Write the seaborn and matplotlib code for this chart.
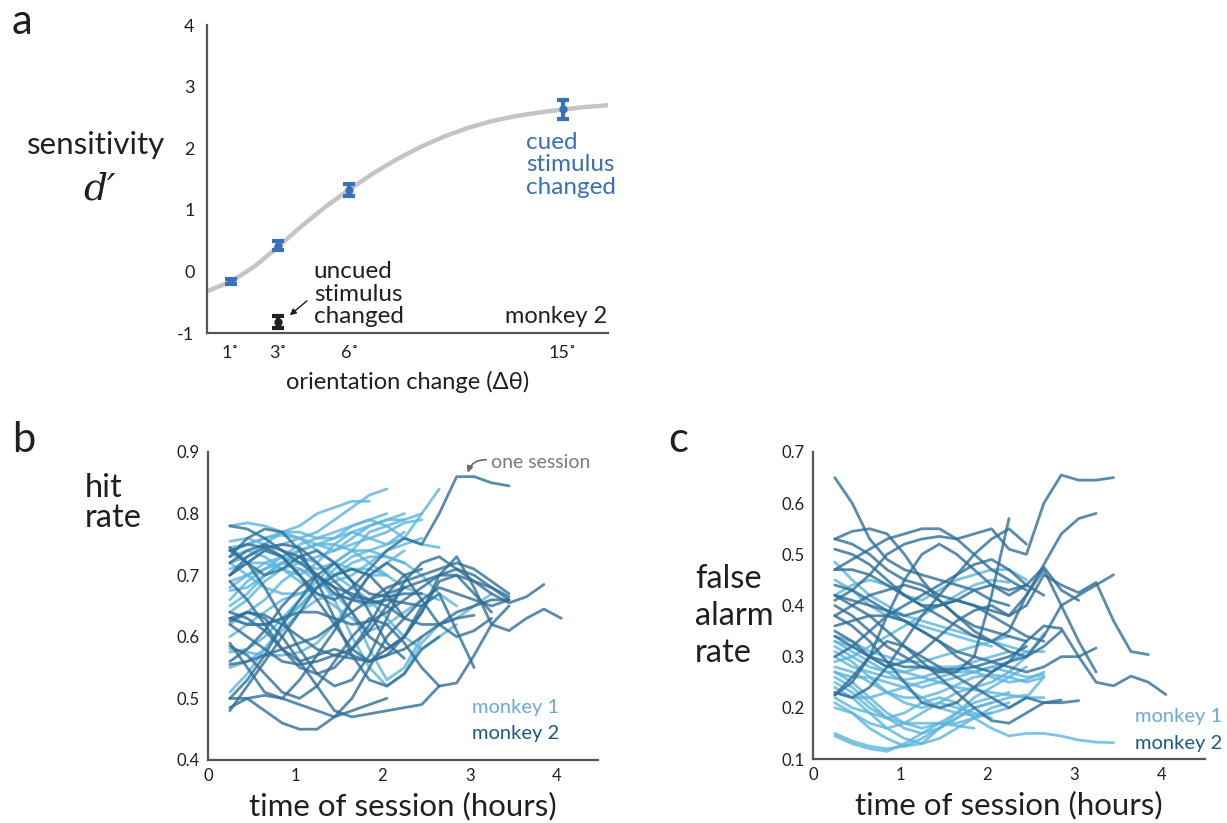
import numpy as np
import pandas as pd
import matplotlib
matplotlib.use("Agg")
import matplotlib.pyplot as plt
import seaborn as sns

sns.set_theme(style="white")
plt.rcParams['font.family'] = ['Lato', 'DejaVu Sans']

# ---------------- data: panel a ----------------
orient_ticks = [1, 3, 6, 15]
orient_labels = ["1˚", "3˚", "6˚", "15˚"]
cued_x = [1, 3, 6, 15]
cued_d = [-0.16, 0.42, 1.32, 2.63]
cued_err = [0.04, 0.08, 0.1, 0.15]
uncued_x = [3]
uncued_d = [-0.82]
uncued_err = [0.1]
fit_x = [0, 1, 2, 3, 4, 5, 6, 7, 8, 9, 10, 11, 12, 13, 14, 15, 16, 17]
fit_d = [-0.32, -0.17, 0.08, 0.40, 0.74, 1.05, 1.33, 1.59, 1.82, 2.02, 2.19, 2.33, 2.44, 2.52, 2.58, 2.63, 2.67, 2.70]

# ---------------- data: panel b (hit rate) ----------------
t_start = 0.25
t_step = 0.2
hit_m1 = [
    [0.78, 0.785, 0.78, 0.77, 0.76, 0.77, 0.79, 0.81, 0.83, 0.84],
    [0.72, 0.73, 0.75, 0.77, 0.78, 0.80, 0.81, 0.82, 0.82],
    [0.74, 0.75, 0.76, 0.77, 0.77, 0.76, 0.76, 0.77, 0.78, 0.79, 0.80],
    [0.70, 0.72, 0.74, 0.75, 0.76, 0.75, 0.74, 0.75, 0.76, 0.77, 0.785, 0.79],
    [0.73, 0.74, 0.73, 0.71, 0.70, 0.72, 0.75, 0.77, 0.76, 0.75, 0.76, 0.80, 0.84],
    [0.68, 0.70, 0.72, 0.73, 0.74, 0.75, 0.76, 0.78, 0.79, 0.78, 0.76, 0.75, 0.745],
    [0.62, 0.64, 0.66, 0.69, 0.71, 0.70, 0.66, 0.60, 0.55, 0.52, 0.54, 0.59, 0.62, 0.63, 0.65, 0.67],
    [0.65, 0.67, 0.70, 0.72, 0.73, 0.72, 0.70, 0.68, 0.66, 0.63, 0.60, 0.58, 0.60, 0.62],
    [0.51, 0.54, 0.58, 0.62, 0.65, 0.68, 0.71, 0.73, 0.74, 0.75, 0.77],
    [0.58, 0.575, 0.57, 0.57, 0.575, 0.59, 0.62, 0.66, 0.70, 0.72, 0.74],
    [0.60, 0.62, 0.64, 0.66, 0.67, 0.68, 0.69, 0.70, 0.72, 0.74, 0.75, 0.76],
    [0.66, 0.69, 0.71, 0.72, 0.71, 0.69, 0.67, 0.66, 0.65, 0.66, 0.68],
    [0.745, 0.75, 0.76, 0.765, 0.76, 0.74, 0.72, 0.71, 0.70, 0.70],
    [0.71, 0.72, 0.72, 0.71, 0.69, 0.67, 0.65, 0.63, 0.61, 0.62, 0.64, 0.66],
    [0.64, 0.66, 0.69, 0.71, 0.72, 0.73, 0.74, 0.76, 0.78, 0.79, 0.79],
    [0.55, 0.56, 0.58, 0.61, 0.64, 0.66, 0.67, 0.64, 0.58, 0.53, 0.55, 0.60],
    [0.69, 0.70, 0.71, 0.73, 0.75, 0.76, 0.77, 0.78, 0.79, 0.80],
    [0.72, 0.70, 0.68, 0.67, 0.67, 0.68, 0.70, 0.72, 0.73, 0.73, 0.72, 0.70, 0.67, 0.65],
    [0.63, 0.62, 0.62, 0.63, 0.65, 0.68, 0.70, 0.71, 0.71, 0.70, 0.68, 0.67, 0.66],
    [0.575, 0.58, 0.60, 0.63, 0.66, 0.69, 0.72, 0.74, 0.74, 0.73, 0.72],
    [0.755, 0.76, 0.75, 0.73, 0.72, 0.71, 0.72, 0.74, 0.77, 0.78, 0.79, 0.80],
    [0.675, 0.68, 0.70, 0.72, 0.74, 0.75, 0.75, 0.74, 0.72, 0.70],
]
hit_m2 = [
    [0.70, 0.72, 0.74, 0.73, 0.70, 0.67, 0.66, 0.68, 0.71, 0.74, 0.76, 0.75, 0.80, 0.86, 0.86, 0.85, 0.845],
    [0.59, 0.55, 0.51, 0.50, 0.53, 0.57, 0.58, 0.57, 0.56, 0.58, 0.60, 0.64, 0.70, 0.73, 0.68, 0.62, 0.61, 0.63, 0.645, 0.63],
    [0.745, 0.72, 0.68, 0.63, 0.58, 0.54, 0.52, 0.53, 0.57, 0.63, 0.69, 0.72, 0.73, 0.71, 0.69, 0.67, 0.655, 0.665, 0.685],
    [0.63, 0.64, 0.635, 0.62, 0.60, 0.58, 0.57, 0.58, 0.61, 0.65, 0.68, 0.69, 0.70, 0.70, 0.69, 0.68, 0.665],
    [0.56, 0.58, 0.61, 0.65, 0.68, 0.70, 0.68, 0.64, 0.60, 0.58, 0.60, 0.65, 0.67, 0.61, 0.55],
    [0.74, 0.75, 0.745, 0.73, 0.70, 0.66, 0.62, 0.58, 0.56, 0.57, 0.60, 0.64, 0.69, 0.70, 0.67, 0.64],
    [0.78, 0.775, 0.76, 0.74, 0.72, 0.70, 0.68, 0.67, 0.66, 0.65, 0.63, 0.62, 0.62, 0.63, 0.635],
    [0.50, 0.50, 0.48, 0.46, 0.45, 0.45, 0.47, 0.50, 0.55, 0.60, 0.63, 0.66, 0.68, 0.67, 0.66, 0.65, 0.66],
    [0.48, 0.52, 0.56, 0.60, 0.64, 0.68, 0.70, 0.71, 0.70, 0.67, 0.63],
    [0.70, 0.73, 0.745, 0.75, 0.745, 0.72, 0.69, 0.665, 0.66, 0.67, 0.68],
    [0.72, 0.74, 0.75, 0.74, 0.73, 0.70, 0.67, 0.66, 0.655, 0.66, 0.655, 0.65],
    [0.625, 0.64, 0.63, 0.60, 0.56, 0.52, 0.48, 0.47, 0.475, 0.48, 0.485, 0.49, 0.52],
    [0.585, 0.57, 0.54, 0.51, 0.50, 0.52, 0.56, 0.60, 0.63, 0.62, 0.59, 0.55, 0.52, 0.525, 0.57, 0.62, 0.65],
    [0.69, 0.66, 0.62, 0.58, 0.55, 0.54, 0.55, 0.58, 0.62, 0.67, 0.70, 0.71],
    [0.64, 0.63, 0.61, 0.58, 0.56, 0.57, 0.61, 0.66, 0.70, 0.72, 0.70, 0.66, 0.62, 0.60, 0.61, 0.63],
    [0.555, 0.56, 0.57, 0.58, 0.59, 0.60, 0.62, 0.64, 0.66, 0.68, 0.69, 0.70, 0.71, 0.72, 0.71, 0.69, 0.67],
    [0.50, 0.53, 0.57, 0.62, 0.66, 0.70, 0.72, 0.69, 0.64, 0.59, 0.565],
    [0.73, 0.76, 0.775, 0.77, 0.74, 0.69, 0.63, 0.57, 0.53, 0.52, 0.54, 0.58, 0.60],
    [0.62, 0.60, 0.58, 0.56, 0.555, 0.56, 0.57, 0.565, 0.56, 0.57, 0.58, 0.60, 0.62, 0.64, 0.65, 0.66, 0.66],
    [0.485, 0.50, 0.505, 0.50, 0.49, 0.48, 0.47, 0.48, 0.49, 0.50],
    [0.74, 0.72, 0.70, 0.71, 0.73, 0.74, 0.72, 0.69, 0.67, 0.665, 0.67, 0.67],
    [0.63, 0.62, 0.62, 0.63, 0.64, 0.64, 0.63, 0.62, 0.625, 0.64, 0.66, 0.68, 0.70, 0.71, 0.70, 0.68, 0.66],
]

# ---------------- data: panel c (false alarm rate) ----------------
fa_m1 = [
    [0.485, 0.45, 0.42, 0.40, 0.38, 0.37, 0.36, 0.35, 0.34, 0.33, 0.32, 0.31, 0.31],
    [0.42, 0.44, 0.45, 0.44, 0.42, 0.41, 0.43, 0.45, 0.46, 0.47, 0.47, 0.45],
    [0.34, 0.33, 0.31, 0.30, 0.29, 0.29, 0.30, 0.31, 0.32, 0.33, 0.34],
    [0.33, 0.31, 0.29, 0.27, 0.25, 0.24, 0.25, 0.26, 0.27, 0.28, 0.27, 0.26, 0.265],
    [0.32, 0.30, 0.28, 0.27, 0.27, 0.28, 0.28, 0.28, 0.27, 0.26, 0.25, 0.255, 0.27],
    [0.31, 0.29, 0.26, 0.23, 0.21, 0.20, 0.21, 0.23, 0.24, 0.25, 0.27, 0.30, 0.345],
    [0.30, 0.28, 0.27, 0.26, 0.255, 0.26, 0.27, 0.28, 0.29, 0.30, 0.31],
    [0.28, 0.27, 0.25, 0.23, 0.22, 0.22, 0.23, 0.245, 0.26, 0.265, 0.26, 0.25, 0.26],
    [0.27, 0.25, 0.22, 0.19, 0.17, 0.16, 0.17, 0.19, 0.21, 0.22, 0.23],
    [0.26, 0.24, 0.21, 0.18, 0.16, 0.15, 0.16, 0.18, 0.20, 0.21, 0.22, 0.225],
    [0.25, 0.23, 0.20, 0.18, 0.17, 0.17, 0.17, 0.165, 0.16],
    [0.24, 0.22, 0.19, 0.16, 0.14, 0.13, 0.14, 0.16, 0.18, 0.20, 0.21],
    [0.22, 0.20, 0.19, 0.18, 0.19, 0.21, 0.22, 0.21, 0.18, 0.16, 0.145, 0.15, 0.15, 0.145, 0.137, 0.133, 0.132],
    [0.21, 0.19, 0.16, 0.14, 0.125, 0.13, 0.16, 0.19, 0.22, 0.24, 0.26, 0.28],
    [0.15, 0.135, 0.125, 0.12, 0.125, 0.14, 0.16, 0.18, 0.20, 0.21],
    [0.145, 0.13, 0.12, 0.115, 0.13, 0.15, 0.17, 0.17, 0.18, 0.19],
    [0.20, 0.19, 0.17, 0.16, 0.17, 0.19, 0.21, 0.20, 0.19, 0.18],
    [0.29, 0.30, 0.32, 0.34, 0.36, 0.38, 0.40, 0.42, 0.44, 0.45, 0.445],
    [0.45, 0.43, 0.40, 0.38, 0.37, 0.36, 0.35, 0.34, 0.33, 0.32],
    [0.23, 0.22, 0.22, 0.23, 0.24, 0.25, 0.26, 0.27, 0.27, 0.28, 0.29, 0.31],
    [0.27, 0.26, 0.26, 0.25, 0.24, 0.22, 0.20, 0.19, 0.185, 0.19, 0.20, 0.22, 0.26],
    [0.33, 0.32, 0.30, 0.28, 0.27, 0.26, 0.25, 0.24, 0.235, 0.23, 0.225, 0.22, 0.22],
]
fa_m2 = [
    [0.65, 0.60, 0.53, 0.49, 0.47, 0.46, 0.45, 0.44, 0.43, 0.41, 0.40],
    [0.41, 0.43, 0.46, 0.50, 0.52, 0.53, 0.535, 0.53, 0.54, 0.55, 0.51, 0.50, 0.60, 0.655, 0.645, 0.645, 0.65],
    [0.53, 0.52, 0.50, 0.47, 0.45, 0.44, 0.42, 0.41, 0.40, 0.39, 0.38, 0.42, 0.48, 0.54, 0.57, 0.58],
    [0.38, 0.40, 0.42, 0.43, 0.44, 0.43, 0.41, 0.38, 0.35, 0.33, 0.31, 0.30, 0.34, 0.40, 0.42, 0.44, 0.46],
    [0.35, 0.33, 0.30, 0.28, 0.29, 0.31, 0.34, 0.37, 0.39, 0.40, 0.38, 0.40, 0.46, 0.44, 0.425, 0.445, 0.37, 0.31, 0.304],
    [0.42, 0.41, 0.40, 0.39, 0.37, 0.35, 0.33, 0.30, 0.28, 0.27, 0.29, 0.33, 0.36, 0.355, 0.30, 0.25, 0.243, 0.262, 0.25, 0.226],
    [0.51, 0.50, 0.48, 0.45, 0.42, 0.40, 0.38, 0.36, 0.34, 0.33, 0.35, 0.42, 0.47, 0.40, 0.33, 0.27],
    [0.36, 0.37, 0.38, 0.38, 0.37, 0.35, 0.33, 0.31, 0.30, 0.29, 0.28, 0.27, 0.28, 0.30, 0.30, 0.317],
    [0.225, 0.26, 0.30, 0.33, 0.32, 0.30, 0.28, 0.26, 0.24, 0.22, 0.20, 0.22, 0.21, 0.21, 0.214],
    [0.47, 0.47, 0.46, 0.44, 0.42, 0.40, 0.40, 0.41, 0.43, 0.44, 0.42, 0.44, 0.475, 0.43, 0.41],
    [0.40, 0.38, 0.35, 0.32, 0.30, 0.28, 0.27, 0.27, 0.30, 0.42, 0.57],
    [0.53, 0.545, 0.55, 0.54, 0.50, 0.45, 0.41, 0.38, 0.36, 0.35, 0.34, 0.33],
    [0.47, 0.49, 0.51, 0.53, 0.54, 0.55, 0.55, 0.53, 0.50, 0.47, 0.45, 0.43],
    [0.225, 0.25, 0.30, 0.38, 0.45, 0.50, 0.52, 0.50, 0.47, 0.44, 0.43, 0.44],
    [0.23, 0.22, 0.24, 0.28, 0.33, 0.38, 0.42, 0.46, 0.50, 0.53, 0.55, 0.52],
    [0.42, 0.40, 0.38, 0.35, 0.32, 0.29, 0.26, 0.23, 0.20, 0.175, 0.17, 0.19, 0.21, 0.215],
    [0.38, 0.36, 0.33, 0.29, 0.25, 0.21, 0.20, 0.21, 0.24, 0.27, 0.29, 0.30, 0.32, 0.35],
    [0.34, 0.32, 0.30, 0.29, 0.28, 0.28, 0.275, 0.275, 0.28, 0.29, 0.30, 0.32],
    [0.30, 0.32, 0.35, 0.38, 0.40, 0.42, 0.44, 0.46, 0.48, 0.49, 0.47, 0.44, 0.42],
    [0.44, 0.43, 0.41, 0.39, 0.38, 0.39, 0.40, 0.41, 0.40, 0.38, 0.36, 0.34, 0.33],
]

session_ticks = [0, 1, 2, 3, 4]

C_M1 = "#5cb6de"
C_M2 = "#2f6f98"
C_M1_TXT = "#6aa9df"
C_M2_TXT = "#1c5a82"
C_BLUE = "#3a6fba"
C_DARK = "#231f20"
C_AXIS = "#555555"


def to_long(m1, m2):
    rows = []
    for name, sets in (("monkey 1", m1), ("monkey 2", m2)):
        for k, vals in enumerate(sets):
            for i, v in enumerate(vals):
                rows.append({"monkey": name, "session": f"{name}-{k}",
                             "t": t_start + t_step * i, "v": v})
    return pd.DataFrame(rows)


W, H = 1227, 823
fig = plt.figure(figsize=(W / 100, H / 100), dpi=100)


def px_axes(left, top, right, bottom):
    return fig.add_axes([left / W, 1 - bottom / H, (right - left) / W, (bottom - top) / H])


def style_axes(ax):
    sns.despine(ax=ax)
    for s in ("left", "bottom"):
        ax.spines[s].set_color(C_AXIS)
        ax.spines[s].set_linewidth(1.6)
    ax.tick_params(length=0, labelsize=12, colors="#231f20", pad=6)
    ax.set_facecolor("white")


# ---------------- panel a ----------------
axa = px_axes(207, 25, 608, 333)
sns.lineplot(x=fit_x, y=fit_d, ax=axa, color="#c4c4c4", lw=3.2)
axa.errorbar(cued_x, cued_d, yerr=cued_err, fmt="o", color=C_BLUE, ms=5,
             capsize=4.5, capthick=3, elinewidth=3, zorder=5)
axa.errorbar(uncued_x, uncued_d, yerr=uncued_err, fmt="o", color=C_DARK, ms=5,
             capsize=4.5, capthick=3, elinewidth=3, zorder=5)
axa.set_xlim(0, 16.9)
axa.set_ylim(-1, 4)
axa.set_xticks(orient_ticks)
axa.set_xticklabels(orient_labels)
axa.set_yticks([-1, 0, 1, 2, 3, 4])
axa.set_yticklabels(["-1", "0", "1", "2", "3", "4"])
style_axes(axa)
axa.tick_params(labelsize=13, pad=9)
axa.set_xlabel("orientation change (Δθ)", fontsize=17, color=C_DARK, labelpad=7)
axa.text(13.45, 1.73, "cued\nstimulus\nchanged", color=C_BLUE, fontsize=17.5,
         ha="left", va="center", linespacing=1.1)
axa.text(4.5, -0.37, "uncued\nstimulus\nchanged", color=C_DARK, fontsize=17.5,
         ha="left", va="center", linespacing=1.1)
axa.text(16.85, -0.74, "monkey 2", color=C_DARK, fontsize=17, ha="right", va="center")
axa.annotate("", xy=(3.4, -0.74), xytext=(4.3, -0.45),
             arrowprops=dict(arrowstyle="-|>", color=C_DARK, lw=1, mutation_scale=9))
fig.text(96 / W, 1 - 145 / H, "sensitivity", fontsize=22.5, color=C_DARK, ha="center", va="center")
fig.text(100 / W, 1 - 190 / H, "d′", fontsize=27, color=C_DARK, ha="center", va="center",
         family=["DejaVu Serif"], style="italic")

# ---------------- panel b ----------------
axb = px_axes(208, 452, 598, 760)
dfb = to_long(hit_m1, hit_m2)
sns.lineplot(data=dfb, x="t", y="v", hue="monkey", units="session", estimator=None,
             palette={"monkey 1": C_M1, "monkey 2": C_M2}, lw=2, alpha=0.8,
             legend=False, sort=False, ax=axb)
axb.set_xlim(0, 4.47)
axb.set_ylim(0.4, 0.9)
axb.set_xticks(session_ticks)
axb.set_yticks([0.4, 0.5, 0.6, 0.7, 0.8, 0.9])
axb.set_yticklabels(["0.4", "0.5", "0.6", "0.7", "0.8", "0.9"])
style_axes(axb)
axb.set_xlabel("time of session (hours)", fontsize=22.5, color=C_DARK, labelpad=5)
axb.set_ylabel("")
axb.text(3.03, 0.485, "monkey 1", color=C_M1_TXT, fontsize=14.5, ha="left", va="center")
axb.text(3.03, 0.443, "monkey 2", color=C_M2_TXT, fontsize=14.5, ha="left", va="center")
axb.text(3.24, 0.883, "one session", color="#7a7a7a", fontsize=14, ha="left", va="center")
axb.annotate("", xy=(2.97, 0.862), xytext=(3.22, 0.887),
             arrowprops=dict(arrowstyle="-|>", color="#6a6a6a", lw=1.2, mutation_scale=9,
                             connectionstyle="arc3,rad=0.45"))
fig.text(85 / W, 1 - 503 / H, "hit\nrate", fontsize=23.5, color=C_DARK, ha="left", va="center",
         linespacing=1.0)

# ---------------- panel c ----------------
axc = px_axes(813, 452, 1205, 759)
dfc = to_long(fa_m1, fa_m2)
sns.lineplot(data=dfc, x="t", y="v", hue="monkey", units="session", estimator=None,
             palette={"monkey 1": C_M1, "monkey 2": C_M2}, lw=2, alpha=0.8,
             legend=False, sort=False, ax=axc)
axc.set_xlim(0, 4.5)
axc.set_ylim(0.1, 0.7)
axc.set_xticks(session_ticks)
axc.set_yticks([0.1, 0.2, 0.3, 0.4, 0.5, 0.6, 0.7])
axc.set_yticklabels(["0.1", "0.2", "0.3", "0.4", "0.5", "0.6", "0.7"])
style_axes(axc)
axc.set_xlabel("time of session (hours)", fontsize=22.5, color=C_DARK, labelpad=5)
axc.set_ylabel("")
axc.text(3.7, 0.183, "monkey 1", color=C_M1_TXT, fontsize=14.5, ha="left", va="center")
axc.text(3.7, 0.131, "monkey 2", color=C_M2_TXT, fontsize=14.5, ha="left", va="center")
fig.text(695 / W, 1 - 616 / H, "false\nalarm\nrate", fontsize=23.5, color=C_DARK, ha="left",
         va="center", linespacing=1.3)

# panel letters
fig.text(12 / W, 1 - 22 / H, "a", fontsize=30, color=C_DARK, ha="left", va="center")
fig.text(12 / W, 1 - 440 / H, "b", fontsize=30, color=C_DARK, ha="left", va="center")
fig.text(668 / W, 1 - 440 / H, "c", fontsize=30, color=C_DARK, ha="left", va="center")

fig.savefig("out.png", dpi=100, facecolor="white")
